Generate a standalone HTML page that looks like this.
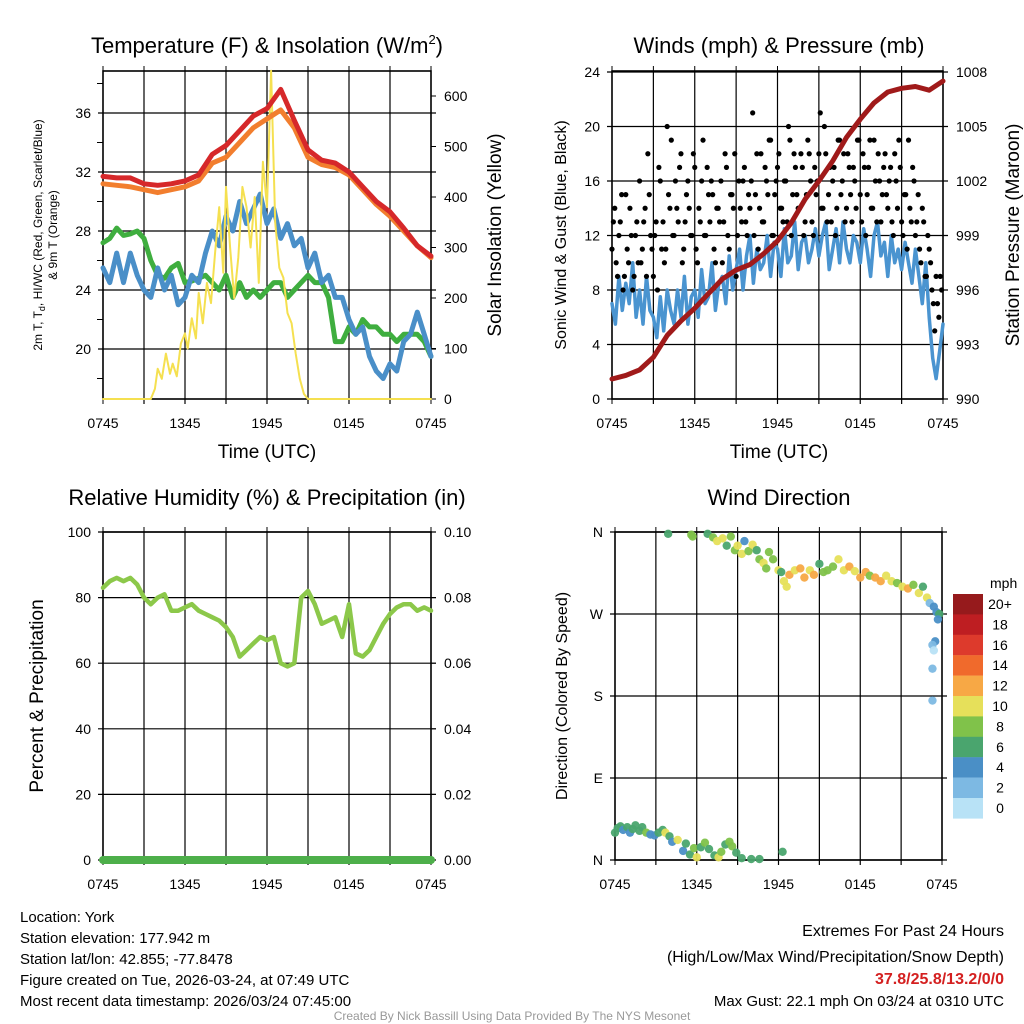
<!DOCTYPE html>
<html><head><meta charset="utf-8"><style>
html,body{margin:0;padding:0;background:#fff;}
svg{display:block;font-family:"Liberation Sans",sans-serif;}
</style></head><body>
<svg id="c" width="1024" height="1024" viewBox="0 0 1024 1024" xmlns="http://www.w3.org/2000/svg">
<rect x="0" y="0" width="1024" height="1024" fill="#fff"/>
<text x="267" y="53" font-size="22" text-anchor="middle">Temperature (F) &amp; Insolation (W/m<tspan font-size="13" dy="-9">2</tspan><tspan dy="9">)</tspan></text>
<text x="779" y="53" font-size="22" text-anchor="middle">Winds (mph) &amp; Pressure (mb)</text>
<text x="267" y="505" font-size="22" text-anchor="middle">Relative Humidity (%) &amp; Precipitation (in)</text>
<text x="779" y="505" font-size="22" text-anchor="middle">Wind Direction</text>

<text x="267" y="458" font-size="19" text-anchor="middle">Time (UTC)</text>
<text x="779" y="458" font-size="19" text-anchor="middle">Time (UTC)</text>
<text transform="translate(42,235) rotate(-90)" font-size="12" text-anchor="middle">2m T, T<tspan font-size="9" dy="3">d</tspan><tspan dy="-3">, HI/WC (Red, Green, Scarlet/Blue)</tspan></text>
<text transform="translate(57,235) rotate(-90)" font-size="12" text-anchor="middle">&amp; 9m T (Orange)</text>
<text transform="translate(501,235) rotate(-90)" font-size="19" text-anchor="middle">Solar Insolation (Yellow)</text>
<text transform="translate(566,235) rotate(-90)" font-size="16" text-anchor="middle">Sonic Wind &amp; Gust (Blue, Black)</text>
<text transform="translate(1019,235) rotate(-90)" font-size="19" text-anchor="middle">Station Pressure (Maroon)</text>
<text transform="translate(43,696) rotate(-90)" font-size="19" text-anchor="middle">Percent &amp; Precipitation</text>
<text transform="translate(567,696) rotate(-90)" font-size="16" text-anchor="middle">Direction (Colored By Speed)</text>

<g font-size="15">
<text x="20" y="922">Location: York</text>
<text x="20" y="943">Station elevation: 177.942 m</text>
<text x="20" y="964">Station lat/lon: 42.855; -77.8478</text>
<text x="20" y="985">Figure created on Tue, 2026-03-24, at 07:49 UTC</text>
<text x="20" y="1006">Most recent data timestamp: 2026/03/24 07:45:00</text>
</g>
<g font-size="16" text-anchor="end">
<text x="1004" y="936">Extremes For Past 24 Hours</text>
<text x="1004" y="962">(High/Low/Max Wind/Precipitation/Snow Depth)</text>
<text x="1004" y="984" fill="#d42020" font-weight="bold">37.8/25.8/13.2/0/0</text>
<text x="1004" y="1006" font-size="15">Max Gust: 22.1 mph On 03/24 at 0310 UTC</text>
</g>
<text x="512" y="1020" font-size="12" fill="#999" text-anchor="middle">Created By Nick Bassill Using Data Provided By The NYS Mesonet</text>
<g id="layer"></g>
</svg>
<script>
// ---- Temperature panel data (hours since 0745 UTC) ----
const tHours = [0,1,2,3,4,5,6,7,8,9,10,11,12,13,14,15,16,17,18,19,20,21,22,23,24];
const tempRed = [31.7,31.6,31.6,31.2,31.1,31.2,31.4,31.8,33.2,33.8,34.8,35.8,36.3,37.6,35.5,33.5,32.8,32.6,32.0,31.0,30.0,29.3,28.2,27.0,26.3];
const tempOrange = [31.2,31.1,31.0,30.8,30.6,30.8,31.0,31.4,32.6,33.0,34.0,35.0,35.6,36.2,35.0,33.0,32.5,32.3,31.8,30.8,29.8,29.0,28.0,27.0,26.2];
const halfHours = [0,0.5,1,1.5,2,2.5,3,3.5,4,4.5,5,5.5,6,6.5,7,7.5,8,8.5,9,9.5,10,10.5,11,11.5,12,12.5,13,13.5,14,14.5,15,15.5,16,16.5,17,17.5,18,18.5,19,19.5,20,20.5,21,21.5,22,22.5,23,23.5,24];
const dewGreen = [27.2,27.5,28.2,27.7,27.8,28,27.5,26,25,24.8,25.5,25.8,24.5,24.6,24.8,25,24.5,24,25,23.5,24.5,23.5,24,23.5,24,24.5,24.5,23.5,24,24.5,25,24.5,24.5,23.5,20.5,20.5,21.5,21,22,21.5,21.5,21,21,20.5,21,21,21,20.5,19.5];
const windChillBlue = [25.5,24.5,26.5,24.5,26.5,25,24,23.5,25.5,24,25,23,23.5,25,24.5,26.5,28,27,29,28,30,28.5,29.5,30.5,28.5,29.5,27.5,28.5,27,27.5,25.5,26.5,24.5,25,23.5,23.5,22,21,21.5,19.5,18.5,18,19,18.5,20.5,21,22.5,21,19.5];
const solarHours = [0,3.5,3.8,4.0,4.3,4.6,4.9,5.1,5.4,5.7,6.0,6.2,6.5,6.8,7.0,7.3,7.6,7.9,8.2,8.5,8.8,9.0,9.3,9.6,9.9,10.2,10.5,10.8,11.1,11.4,11.7,12.0,12.3,12.6,12.9,13.2,13.5,13.8,14.1,14.4,14.7,15,24];
const solarValues = [0,0,20,60,40,90,50,70,45,110,130,100,160,120,210,150,230,190,290,380,250,420,300,200,280,420,380,300,400,230,470,380,650,350,260,240,170,150,90,40,10,0,0];
const tempTicks = [20,24,28,32,36];
const solarTicks = [0,100,200,300,400,500,600];
const timeTickLabels = ["0745","1345","1945","0145","0745"];
// ---- Wind panel data ----
const windHours = Array.from({length:97},(_, i)=>i*0.25);
const sonicWind = [7,5.5,9,6.5,8.5,7,10,6,8,5.5,9,6.5, 6,4.5,7.5,5,8,6.5,5.5,8,6,9,5.5,7.5, 8,6,9.5,7,7.5,10,6.5,8.5,9,7,10.5,8, 9.5,11,8,10.5,12,8.5,11,9.5,10,12,9,11.5, 11,9,12.5,10,10.5,13,9.5,11.5,12,10,11,12.5, 10.5,12,13,9.5,11,12.5,10,13,11,10,12,11.5, 10,12.5,11,9,12,13,10.5,11.5,9,12,10,11, 9.5,11.5,10,8.5,11,9,7,10,6,3,1.5,3.5,5.5];
const gustHours = Array.from({length:120},(_, i)=>i*0.2);
const gustValues = [11,14,9,13,8,15,10,12,9,13, 16,11,14,18,12,9,13,17,11,10, 20,14,12,16,13,18,11,15,14,12, 17,10,13,19,12,15,16,11,14,13, 10,18,12,15,14,9,16,13,17,12, 14,21,15,11,18,13,16,19,12,15, 17,14,13,16,20,12,18,15,14,17, 13,19,16,12,15,18,14,20,13,17, 16,12,19,15,18,14,17,13,16,19, 15,18,12,17,14,19,13,16,15,18, 14,17,12,16,19,13,15,11,14,17, 12,15,10,13,9,11,8,5,7,9];
const gustHours2 = Array.from({length:120},(_, i)=>i*0.2+0.1);
const gustValues2 = [13,10,12,15,9,11,14,8,12,10, 10,13,9,15,11,12,8,16,13,11, 15,19,12,14,17,10,13,16,12,18, 11,14,16,12,17,13,15,10,14,16, 13,17,11,15,18,12,14,16,13,15, 16,12,18,14,13,17,15,19,12,16, 18,14,16,13,19,15,17,14,18,12, 15,18,13,17,16,21,14,18,15,13, 17,14,19,16,13,18,15,17,14,19, 13,17,15,19,14,16,18,13,17,15, 16,13,18,14,17,12,15,19,13,16, 13,11,14,9,12,10,7,9,6,8];
const pressure = [991.1,991.3,991.6,992.3,993.5,994.3,995.0,995.8,996.6,997.1,997.4,998.0,998.7,999.7,1001.0,1002.0,1003.1,1004.4,1005.4,1006.3,1006.9,1007.1,1007.2,1007.0,1007.5];
const windTicks = [0,4,8,12,16,20,24];
const pressureTicks = [990,993,996,999,1002,1005,1008];
// ---- RH panel data ----
const rhValues = [83,85,86,85,86,84,80,78,80,81,76,76,77,78,76,75,74,73,71,68,62,64,66,68,67,68,60,59,60,80,82,78,72,73,74,68,78,63,62,64,68,72,75,77,78,78,76,77,76];
const precipValues = [0,0,0,0,0,0,0,0,0,0,0,0,0,0,0,0,0,0,0,0,0,0,0,0,0];
const rhTicks = [0,20,40,60,80,100];
const precipTicks = ["0.00","0.02","0.04","0.06","0.08","0.10"];
// ---- Direction panel data ----
const dirHours = [0.0,0.2,0.4,0.6,0.9,1.1,1.3,1.5,1.8,2.0,2.3,2.6,2.9,3.2,3.5,3.7,4.0,4.2,4.6,5.0,5.2,5.5,5.8,6.0,6.3,6.6,6.9,7.3,7.6,7.8,8.1,8.4,8.6,8.9,9.3,10.0,10.6,12.3,
3.9,5.6,5.7,6.8,7.2,7.5,7.9,8.2,8.5,8.8,9.0,9.3,9.5,9.8,10.1,10.4,10.6,10.9,11.1,11.3,11.6,12.0,12.2,12.4,12.6,12.8,13.2,13.6,13.9,14.3,14.6,15.0,15.3,15.6,16.0,16.4,16.8,17.2,17.6,18.0,18.4,18.7,19.1,19.5,19.9,20.3,20.7,21.1,21.5,21.9,22.3,22.6,22.9,23.1,23.4,23.6,23.8,23.7,23.5,23.3,23.4,23.3,23.3];
const dirDegrees = [30,35,37,33,36,30,34,38,32,36,30,28,27,30,33,30,26,20,22,10,18,6,13,3,14,19,12,5,3,9,17,20,15,8,2,1,1,9,
358,357,355,358,354,350,353,345,355,340,345,336,350,339,346,340,330,326,320,338,330,318,316,306,300,313,318,320,310,318,313,325,316,318,322,330,318,322,317,310,316,312,310,306,312,306,304,300,298,302,293,300,288,282,278,272,270,264,240,236,230,210,175];
const dirSpeeds = [6,6,6,5,7,4,6,6,6,6,8,5,4,7,6,10,7,5,10,4,6,6,8,10,6,8,6,7,10,8,7,8,8,6,6,6,6,6,
6,8,8,6,8,10,10,6,8,8,10,10,4,8,10,6,8,10,8,8,8,10,6,10,10,12,10,12,12,10,12,6,8,8,8,10,10,12,10,12,12,8,12,12,10,10,8,10,12,8,10,6,10,2,4,4,6,4,4,2,0,2,2];
const dirTickLabels = ["N","E","S","W","N"];
const speedBinLabels = ["0","2","4","6","8","10","12","14","16","18","20+"];
const speedColors = ["#b8e2f6","#7db9e3","#4a8fc6","#4aa56e","#80c24a","#e6e05a","#f7a845","#f06a2c","#dd3a2c","#be1e22","#961a1c"];

const NS="http://www.w3.org/2000/svg";
const layer=document.getElementById('layer');
function el(tag,attrs,parent){const e=document.createElementNS(NS,tag);for(const k in attrs)e.setAttribute(k,attrs[k]);(parent||layer).appendChild(e);return e;}
function scale(d0,d1,r0,r1){return v=>r0+(v-d0)*(r1-r0)/(d1-d0);}

function frame(name,x0,x1,y0,y1,yTickVals,yScale,rTickVals,rTickLabels,rScale,lTickLabels){
  const g=el('g',{});
  
  
  const xs=scale(0,24,x0,x1);
  for(let h=3;h<24;h+=3){
    const l=el('line',{x1:xs(h),x2:xs(h),y1:y0,y2:y1+5,stroke:'#000','stroke-width':1.2},g);
    
    
    el('line',{x1:xs(h),x2:xs(h),y1:y0-5,y2:y0,stroke:'#000','stroke-width':1},g);
  }
  [0,24].forEach(h=>{el('line',{x1:xs(h),x2:xs(h),y1:y0-5,y2:y1+5,stroke:'#000','stroke-width':1},g);});
  for(let i=0;i<5;i++){
    const t=el('text',{x:xs(i*6),y:y1+29,'font-size':14,'text-anchor':'middle'},g);
    t.textContent=timeTickLabels[i];
    
    
  }
  yTickVals.forEach((v,i)=>{
    const y=yScale(v);
    const l=el('line',{x1:x0-5,x2:x1+5,y1:y,y2:y,stroke:'#000','stroke-width':1.2},g);
    
    
    const t=el('text',{x:x0-12,y:y+5,'font-size':14,'text-anchor':'end'},g);
    t.textContent=lTickLabels?lTickLabels[i]:v;
    
    
  });
  if(rTickVals){
    rTickVals.forEach((v,i)=>{
      const y=rScale(v);
      el('line',{x1:x1,x2:x1+5,y1:y,y2:y,stroke:'#000','stroke-width':1},g);
      const t=el('text',{x:x1+13,y:y+5,'font-size':14,'text-anchor':'start'},g);
      t.textContent=rTickLabels?rTickLabels[i]:v;
      
      
    });
  }
  el('rect',{x:x0,y:y0,width:x1-x0,height:y1-y0,fill:'none',stroke:'#000','stroke-width':1.6},g);
  return xs;
}
function line(xsArr,ysArr,xs,ys,color,w,name){
  const d=xsArr.map((h,i)=>(i?'L':'M')+xs(h).toFixed(1)+','+ys(ysArr[i]).toFixed(1)).join('');
  const p=el('path',{d:d,fill:'none',stroke:color,'stroke-width':w,'stroke-linejoin':'round','stroke-linecap':'round'});
  
  
}

// Panel 1
const p1y=scale(20,36,349,113), p1s=scale(0,600,399,96);
const minorT=[18,22,26,30,34,38];
const p1x=frame('temp',103,431,71,399,tempTicks,p1y,solarTicks,null,p1s);
minorT.forEach(v=>el('line',{x1:97,x2:103,y1:p1y(v),y2:p1y(v),stroke:'#000','stroke-width':1}));
line(halfHours,dewGreen,p1x,p1y,'#3fae3f',5,'dewpoint-line');
line(halfHours,windChillBlue,p1x,p1y,'#4a8fc8',5,'windchill-line');
line(solarHours,solarValues,p1x,p1s,'#f5e050',2,'solar-line');
line(tHours,tempOrange,p1x,p1y,'#f27e2e',5,'temp-9m-line');
line(tHours,tempRed,p1x,p1y,'#d6282a',5,'temp-2m-line');

// Panel 2
const p2y=scale(0,24,399,72), p2p=scale(990,1008,399,72);
const p2x=frame('wind',612,943,71,399,windTicks,p2y,pressureTicks,null,p2p);
line(windHours,sonicWind,p2x,p2y,'#4a94d0',3.5,'sonic-wind-line');
gustHours.forEach((h,i)=>{
  const c=el('circle',{cx:p2x(h),cy:p2y(gustValues[i]),r:2.6,fill:'#000'});
  
  
});
gustHours2.forEach((h,i)=>{
  const c=el('circle',{cx:p2x(h),cy:p2y(gustValues2[i]),r:2.6,fill:'#000'});
  
  
});
line(tHours,pressure,p2x,p2p,'#a01a1a',5,'pressure-line');

// Panel 3
const p3y=scale(0,100,860,532), p3p=scale(0,0.1,860,532);
const p3x=frame('rh',103,431,532,860,rhTicks,p3y,[0,0.02,0.04,0.06,0.08,0.1],precipTicks,p3p);
line(tHours,precipValues,p3x,p3p,'#4daf4a',8,'precip-line');
line(halfHours,rhValues,p3x,p3y,'#8cc84a',4.5,'rh-line');

// Panel 4
const p4y=scale(0,360,860,532);
const p4x=frame('dir',615,942,532,860,[0,90,180,270,360],p4y,null,null,null,dirTickLabels);
dirHours.forEach((h,i)=>{
  const b=Math.min(10,Math.floor(dirSpeeds[i]/2));
  const c=el('circle',{cx:p4x(h),cy:p4y(dirDegrees[i]),r:4.2,fill:speedColors[b],'fill-opacity':0.95});
  
  
});
// colorbar
const cb=el('g',{});


const mt=el('text',{x:990,y:588,'font-size':14},cb); mt.textContent='mph';
for(let i=0;i<11;i++){
  const idx=10-i;
  const y=594+i*20.4;
  el('rect',{x:953,y:y,width:30,height:20.6,fill:speedColors[idx]},cb);
  const t=el('text',{x:1000,y:y+15,'font-size':14,'text-anchor':'middle'},cb);
  t.textContent=speedBinLabels[idx];
}
</script>
</body></html>
